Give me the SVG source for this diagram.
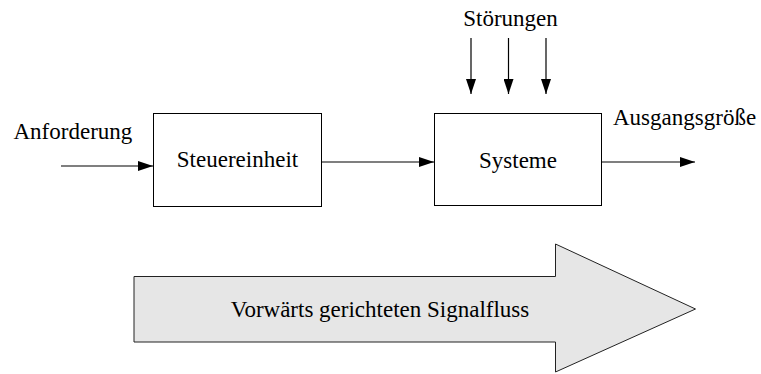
<svg xmlns="http://www.w3.org/2000/svg" width="761" height="374" viewBox="0 0 761 374">
<defs>
<style>
text{font-family:"Liberation Serif","Times New Roman",serif;font-size:23px;fill:#000}
.box{fill:#fff;stroke:#000;stroke-width:1}
.ln{stroke:#000;stroke-width:1.2;fill:none}
.mid{text-anchor:middle}
</style>
<marker id="ah" markerWidth="15" markerHeight="10" refX="15" refY="5" orient="auto" markerUnits="userSpaceOnUse">
<path d="M0,0 L15,5 L0,10 Z" fill="#000"/>
</marker>
</defs>
<rect width="761" height="374" fill="#fff"/>
<g id="flow">
<path d="M134,276.5 H555.5 V244 L695.5,309 L555.5,372 V342 H134 Z" fill="#e6e6e6" stroke="#222" stroke-width="1"/>
<text x="380" y="317" class="mid">Vorwärts gerichteten Signalfluss</text>
</g>
<g id="steuereinheit">
<rect class="box" x="153.5" y="113.5" width="168" height="93"/>
<text x="237.5" y="167" class="mid">Steuereinheit</text>
</g>
<g id="systeme">
<rect class="box" x="434.5" y="113.5" width="167" height="92"/>
<text x="518" y="167.5" class="mid">Systeme</text>
</g>
<g id="labels">
<text x="13.5" y="138.5">Anforderung</text>
<text x="510.5" y="26" class="mid">Störungen</text>
<text x="613" y="125">Ausgangsgröße</text>
</g>
<g id="connectors">
<line class="ln" x1="61" y1="166" x2="153" y2="166" marker-end="url(#ah)"/>
<line class="ln" x1="322" y1="162" x2="434" y2="162" marker-end="url(#ah)"/>
<line class="ln" x1="602" y1="162" x2="695" y2="162" marker-end="url(#ah)"/>
<line class="ln" x1="471" y1="38" x2="471" y2="94" marker-end="url(#ah)"/>
<line class="ln" x1="508.5" y1="38" x2="508.5" y2="94" marker-end="url(#ah)"/>
<line class="ln" x1="546" y1="38" x2="546" y2="94" marker-end="url(#ah)"/>
</g>
</svg>
